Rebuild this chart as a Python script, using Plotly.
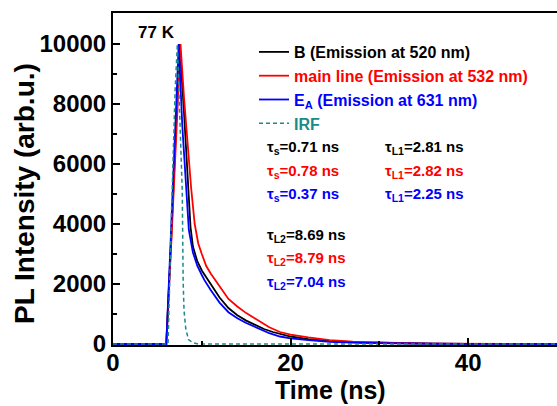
import plotly.graph_objects as go

# ---- data ----
t_black = [0, 6.0, 6.6, 7.0, 7.5, 8.0, 8.46, 8.73, 9.0, 9.5, 10, 10.7, 11, 12, 13, 14, 15, 16, 17, 18, 20, 22, 25, 28, 32, 36, 40, 45, 50]
v_black = [0, 0, 3800, 6600, 10000, 7700, 5450, 3900, 3250, 2750, 2450, 2130, 1980, 1550, 1200, 960, 780, 630, 500, 400, 250, 165, 90, 50, 22, 11, 6, 3, 1]

t_red = [0, 6.0, 6.6, 7.0, 7.3, 7.6, 8.0, 8.5, 8.8, 9.2, 9.6, 10, 10.5, 11, 11.6, 12, 13, 14, 15, 16, 17.6, 18.8, 20, 22, 24.4, 27, 30, 33, 36, 40, 45, 50]
v_red = [0, 0, 3600, 6200, 8200, 10000, 8200, 6300, 5200, 4000, 3350, 3000, 2600, 2350, 2100, 1900, 1500, 1250, 1030, 850, 560, 400, 310, 220, 130, 80, 45, 25, 15, 8, 4, 2]

t_blue = [0, 6.0, 6.5, 7.0, 7.4, 7.8, 8.15, 8.54, 9.0, 9.5, 10, 10.3, 11, 12, 13, 14, 15, 16, 17.6, 18.8, 20, 22, 24.4, 28, 32, 36, 40, 45, 50]
v_blue = [0, 0, 3500, 7300, 10000, 7300, 5450, 3800, 3050, 2600, 2300, 2130, 1800, 1380, 1060, 860, 700, 560, 360, 250, 190, 130, 70, 35, 15, 8, 4, 2, 1]

t_irf = [0, 6.2, 6.6, 7.0, 7.25, 7.5, 7.8, 7.9, 8.0, 8.2, 8.5, 9.0, 9.6, 50]
v_irf = [0, 0, 4500, 8500, 10000, 8000, 5100, 2100, 1100, 500, 150, 40, 0, 0]

names = ["B (Emission at 520 nm)", "main line (Emission at 532 nm)",
         "E<sub>A</sub> (Emission at 631 nm)", "IRF"]
colors = ["#000000", "#ff0000", "#0000ff", "#1a8a8a"]

tau_s = ["0.71", "0.78", "0.37"]
tau_L1 = ["2.81", "2.82", "2.25"]
tau_L2 = ["8.69", "8.79", "7.04"]

FONT = "Liberation Sans, Arial, sans-serif"

W, H = 557, 406
L, R, T, B = 113, 557, 13, 345

def dx(px):
    return (px - L) / (R - L)

def dy(py):
    return (B - py) / (B - T)

fig = go.Figure()
series = [(t_black, v_black), (t_red, v_red), (t_blue, v_blue)]
for (t, v), n, c in zip(series, names[:3], colors[:3]):
    fig.add_trace(go.Scatter(x=t, y=v, mode="lines", line=dict(color=c, width=1.8),
                             name=f'<span style="color:{c}">{n}</span>'))
fig.add_trace(go.Scatter(x=t_irf, y=v_irf, mode="lines",
                         line=dict(color=colors[3], width=1.5, dash="4px,3px"),
                         name=f'<span style="color:{colors[3]}">{names[3]}</span>'))

rows_y1 = [148, 171, 195]
rows_y2 = [235, 258, 282]
afont = lambda c: dict(color=c, size=15, family=FONT, weight="bold")
for i in range(3):
    c = colors[i]
    fig.add_annotation(text=f"τ<sub>s</sub>={tau_s[i]} ns", x=dx(265), y=dy(rows_y1[i]),
                       xref="paper", yref="paper", showarrow=False,
                       font=afont(c), xanchor="left", yanchor="middle")
    fig.add_annotation(text=f"τ<sub>L1</sub>={tau_L1[i]} ns", x=dx(383), y=dy(rows_y1[i]),
                       xref="paper", yref="paper", showarrow=False,
                       font=afont(c), xanchor="left", yanchor="middle")
    fig.add_annotation(text=f"τ<sub>L2</sub>={tau_L2[i]} ns", x=dx(265), y=dy(rows_y2[i]),
                       xref="paper", yref="paper", showarrow=False,
                       font=afont(c), xanchor="left", yanchor="middle")

fig.add_annotation(text="77 K", x=dx(136), y=dy(32), xref="paper", yref="paper",
                   showarrow=False, font=dict(color="black", size=17, family=FONT, weight="bold"),
                   xanchor="left", yanchor="middle")

# axis titles
fig.add_annotation(text="Time (ns)", x=dx(330), y=dy(390), xref="paper", yref="paper",
                   showarrow=False, font=dict(color="black", size=25, family=FONT, weight="bold"),
                   xanchor="center", yanchor="middle")
fig.add_annotation(text="PL Intensity (arb.u.)", x=dx(24), y=dy(194), xref="paper", yref="paper",
                   showarrow=False, textangle=-90,
                   font=dict(color="black", size=28, family=FONT, weight="bold"),
                   xanchor="center", yanchor="middle")

fig.update_layout(
    width=W, height=H,
    margin=dict(l=L, r=W - R, t=T, b=H - B, autoexpand=False),
    paper_bgcolor="white", plot_bgcolor="white",
    font=dict(family=FONT, color="black"),
    legend=dict(x=dx(254), y=dy(35), xanchor="left", yanchor="top",
                bgcolor="rgba(0,0,0,0)", font=dict(size=16, family=FONT, weight="bold"),
                itemwidth=30, tracegroupgap=0),
    showlegend=True,
)
fig.update_xaxes(range=[0, 50], tickvals=[0, 20, 40], ticks="inside", ticklen=7, tickwidth=2,
                 tickcolor="black", ticklabelstandoff=-5,
                 tickfont=dict(size=24, family=FONT, weight="bold"),
                 minor=dict(tickvals=[10, 30, 50], ticks="inside", ticklen=4, tickwidth=1.5, tickcolor="black"),
                 showline=True, linecolor="black", linewidth=2, mirror=True,
                 showgrid=False, zeroline=False, automargin=False)
fig.update_yaxes(range=[-33, 11033], dtick=2000, tick0=0, tickformat="d", ticks="inside",
                 ticklen=7, tickwidth=2, tickcolor="black",
                 tickfont=dict(size=24, family=FONT, weight="bold"),
                 minor=dict(dtick=1000, tick0=0, ticks="inside", ticklen=4, tickwidth=1.5, tickcolor="black"),
                 showline=True, linecolor="black", linewidth=2, mirror=False,
                 showgrid=False, zeroline=False, automargin=False)

fig.write_html("out.html", config={"displayModeBar": False},
               post_script="document.body.style.margin='0';")
